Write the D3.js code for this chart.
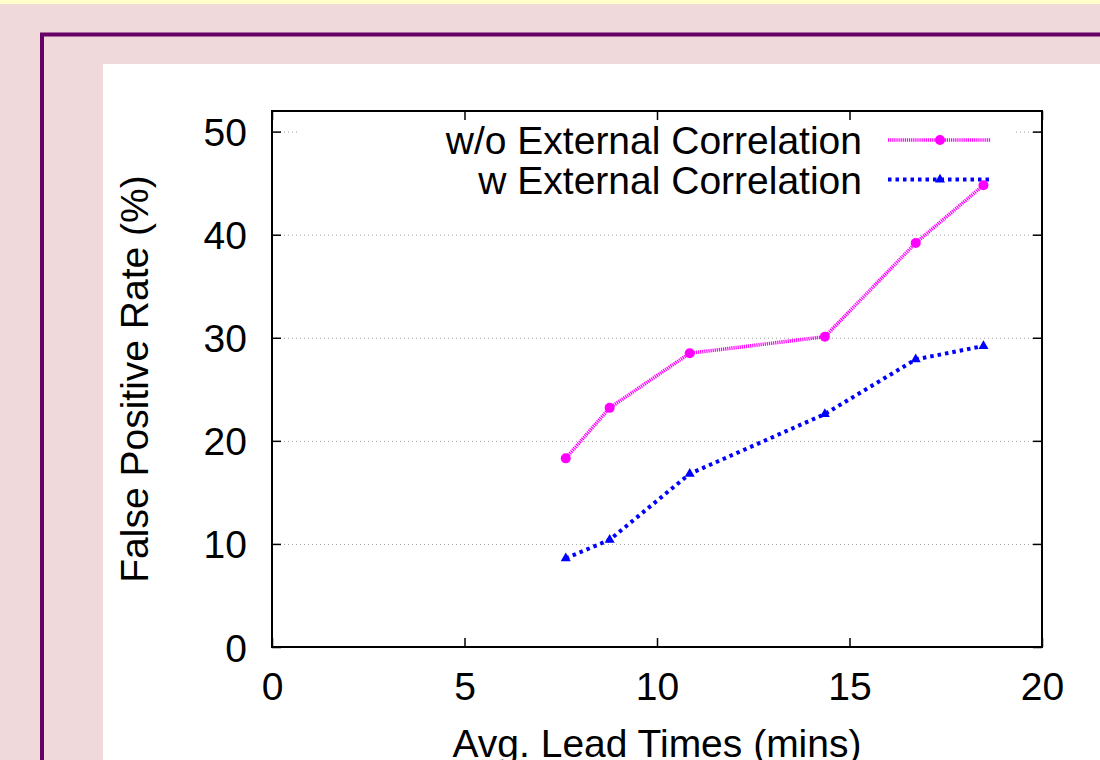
<!DOCTYPE html>
<html>
<head>
<meta charset="utf-8">
<script src="https://cdn.jsdelivr.net/npm/d3@7"></script>
<style>
  body { margin: 0; background: #efd9da; }
  svg { display: block; font-family: "Liberation Sans", Arial, Helvetica, sans-serif; }
</style>
</head>
<body>
<div id="chart"></div>
<script>
// data
var leadTimes = [7.63, 8.77, 10.85, 14.36, 16.72, 18.48];
var fprWithout = [18.3, 23.2, 28.5, 30.1, 39.2, 44.8];
var fprWith = [8.6, 10.4, 16.8, 22.6, 27.9, 29.2];
var seriesNames = ['w/o External Correlation', 'w External Correlation'];
var xTicks = [0, 5, 10, 15, 20];
var yTicks = [0, 10, 20, 30, 40, 50];

var width = 1100, height = 760;
var svg = d3.select('#chart').append('svg')
    .attr('width', width)
    .attr('height', height);

// page decoration
svg.append('rect').attr('x', 0).attr('y', 0).attr('width', width).attr('height', height).attr('fill', '#efd9da');
svg.append('rect').attr('x', 0).attr('y', 0).attr('width', width).attr('height', 4).attr('fill', '#ffffcc');
svg.append('path')
    .attr('d', 'M42,' + height + 'V34.5H' + width)
    .attr('fill', 'none')
    .attr('stroke', '#660066')
    .attr('stroke-width', 4);
svg.append('rect').attr('x', 103).attr('y', 64).attr('width', width - 103).attr('height', height - 64).attr('fill', '#ffffff');

var plotLeft = 272, plotRight = 1042, plotTop = 111, plotBottom = 647;
var x = d3.scaleLinear().domain([0, 20]).range([plotLeft, plotRight]);
var y = d3.scaleLinear().domain([0, 52]).range([plotBottom, plotTop]);
var fontSize = 39;

// grid
var grid = svg.append('g')
    .attr('transform', 'translate(' + plotLeft + ',0)')
    .call(d3.axisLeft(y).tickValues(yTicks.slice(1)).tickSize(-(plotRight - plotLeft)).tickFormat(''));
grid.select('.domain').remove();
grid.selectAll('line')
    .attr('stroke', '#a0a0a0')
    .attr('stroke-width', 1)
    .attr('stroke-dasharray', '1,3');

// legend background blanks the grid
svg.append('rect')
    .attr('x', 298).attr('y', 116)
    .attr('width', 717).attr('height', 82)
    .attr('fill', '#ffffff');

var colors = ['#ff00ff', '#0000ff'];
var dashes = ['1.2,0.9', '3.5,4'];
var widths = [3.6, 4];

// legend
var legend = svg.append('g');
var legendRows = legend.selectAll('g')
    .data(seriesNames)
    .enter()
    .append('g')
    .attr('transform', function (d, i) {
        return 'translate(0,' + (140 + i * 39.5) + ')';
    });
legendRows.append('text')
    .attr('x', 862)
    .attr('y', 0)
    .attr('dy', '0.36em')
    .attr('text-anchor', 'end')
    .attr('font-size', fontSize)
    .attr('fill', '#000')
    .text(function (d) { return d; });
legendRows.append('line')
    .attr('x1', 888).attr('x2', 991)
    .attr('y1', 0).attr('y2', 0)
    .attr('stroke', function (d, i) { return colors[i]; })
    .attr('stroke-width', function (d, i) { return widths[i]; })
    .attr('stroke-dasharray', function (d, i) { return dashes[i]; });

var circleSym = d3.symbol().type(d3.symbolCircle).size(Math.PI * 5 * 5);
var triSym = d3.symbol().type(d3.symbolTriangle).size(44);

legendRows.append('path')
    .attr('transform', 'translate(940,0)')
    .attr('d', function (d, i) { return i === 0 ? circleSym() : triSym(); })
    .attr('fill', function (d, i) { return colors[i]; });

// data
var seriesValues = [fprWithout, fprWith];
var lineGen = d3.line()
    .x(function (d) { return x(d[0]); })
    .y(function (d) { return y(d[1]); });

seriesValues.forEach(function (vals, si) {
    var pts = leadTimes.map(function (t, i) { return [t, vals[i]]; });
    svg.append('path')
        .datum(pts)
        .attr('d', lineGen)
        .attr('fill', 'none')
        .attr('stroke', colors[si])
        .attr('stroke-width', widths[si])
        .attr('stroke-dasharray', dashes[si]);
    svg.selectAll('.pt' + si)
        .data(pts)
        .enter()
        .append('path')
        .attr('class', 'pt' + si)
        .attr('transform', function (d) { return 'translate(' + x(d[0]) + ',' + y(d[1]) + ')'; })
        .attr('d', si === 0 ? circleSym() : triSym())
        .attr('fill', colors[si]);
});

// frame and axes
function styleAxis(g) {
    g.selectAll('line').attr('stroke', '#000').attr('stroke-width', 1.5);
    g.selectAll('.domain').remove();
    g.selectAll('text').attr('font-size', fontSize).attr('fill', '#000').attr('font-family', '"Liberation Sans", Arial, sans-serif');
}

var yAxis = svg.append('g')
    .attr('transform', 'translate(' + plotLeft + ',0)')
    .call(d3.axisLeft(y).tickValues(yTicks).tickSizeInner(-9).tickSizeOuter(0).tickPadding(25));
styleAxis(yAxis);
yAxis.selectAll('text').attr('dy', '0.36em');

var yAxisR = svg.append('g')
    .attr('transform', 'translate(' + plotRight + ',0)')
    .call(d3.axisRight(y).tickValues(yTicks).tickSizeInner(-9).tickSizeOuter(0).tickFormat(''));
styleAxis(yAxisR);

var xAxis = svg.append('g')
    .attr('transform', 'translate(0,' + plotBottom + ')')
    .call(d3.axisBottom(x).tickValues(xTicks).tickSizeInner(-9).tickSizeOuter(0).tickPadding(25));
styleAxis(xAxis);

var xAxisT = svg.append('g')
    .attr('transform', 'translate(0,' + plotTop + ')')
    .call(d3.axisTop(x).tickValues(xTicks).tickSizeInner(-9).tickSizeOuter(0).tickFormat(''));
styleAxis(xAxisT);

svg.append('rect')
    .attr('x', plotLeft).attr('y', plotTop)
    .attr('width', plotRight - plotLeft).attr('height', plotBottom - plotTop)
    .attr('fill', 'none')
    .attr('stroke', '#000')
    .attr('stroke-width', 2);

// axis titles
svg.append('text')
    .attr('transform', 'translate(148,' + ((plotTop + plotBottom) / 2) + ') rotate(-90)')
    .attr('text-anchor', 'middle')
    .attr('font-size', fontSize)
    .attr('fill', '#000')
    .text('False Positive Rate (%)');

svg.append('text')
    .attr('x', (plotLeft + plotRight) / 2)
    .attr('y', 757)
    .attr('text-anchor', 'middle')
    .attr('font-size', fontSize)
    .attr('fill', '#000')
    .text('Avg. Lead Times (mins)');
</script>
</body>
</html>
